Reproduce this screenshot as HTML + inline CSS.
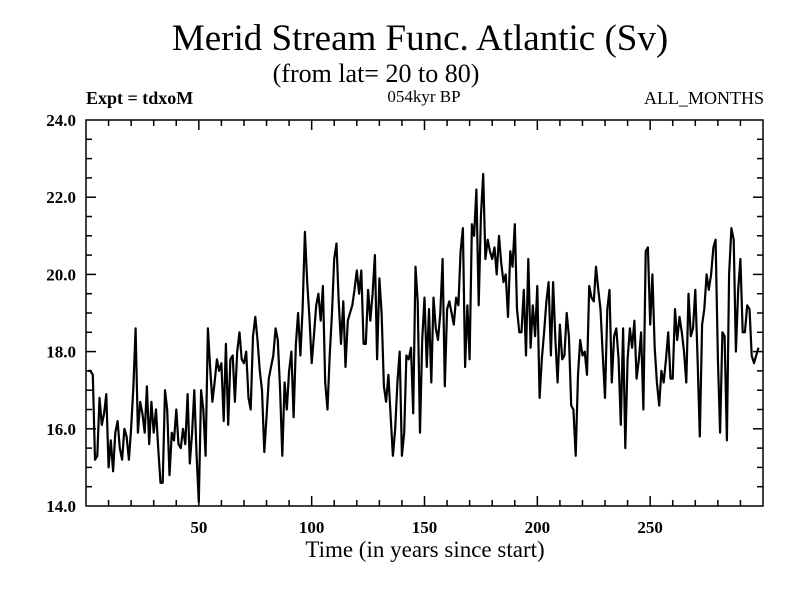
<!DOCTYPE html>
<html><head><meta charset="utf-8"><style>
body{margin:0;background:#fff;}
svg{display:block;font-family:"Liberation Serif",serif;}
</style></head><body>
<svg id="chart" width="800" height="600" viewBox="0 0 800 600">
<text x="420" y="50" font-size="37" text-anchor="middle">Merid Stream Func. Atlantic (Sv)</text>
<text x="376" y="82" font-size="26" text-anchor="middle">(from lat= 20 to 80)</text>
<text x="86" y="104" font-size="18" font-weight="bold">Expt = tdxoM</text>
<text x="424" y="102" font-size="17" text-anchor="middle">054kyr BP</text>
<text x="764" y="104" font-size="18" text-anchor="end">ALL_MONTHS</text>
<text x="425" y="557" font-size="23" text-anchor="middle">Time (in years since start)</text>
<g id="axes"></g>
<path id="series" fill="none" stroke="#000" stroke-width="2.2" stroke-linejoin="round"></path>
<rect x="86" y="120" width="677" height="386" fill="none" stroke="#000" stroke-width="1.5"></rect>
</svg>
<script>
const xTicks = [50, 100, 150, 200, 250];
const yTicks = [14, 16, 18, 20, 22, 24];
const yTickLabels = ["14.0", "16.0", "18.0", "20.0", "22.0", "24.0"];
const values = [
17.5,17.5,17.4,15.2,15.3,16.8,16.1,16.4,16.9,15.0,15.7,14.9,15.9,16.2,15.5,15.2,16.0,15.8,15.2,16.0,17.1,18.6,15.9,16.7,16.4,15.9,17.1,15.6,16.7,15.9,16.5,15.5,14.6,14.6,17.0,16.5,14.8,15.9,15.7,16.5,15.6,15.5,16.0,15.6,16.9,15.1,15.9,17.0,15.3,14.1,17.0,16.5,15.3,18.6,17.6,16.7,17.2,17.8,
17.5,17.7,16.2,18.2,16.1,17.8,17.9,16.7,18.0,18.5,17.8,17.7,18.0,16.8,16.5,18.4,18.9,18.3,17.5,17.0,15.4,16.3,17.3,17.6,17.9,18.6,18.3,17.0,15.3,17.2,16.5,17.5,18.0,16.3,18.2,19.0,17.9,19.1,21.1,19.8,18.9,17.7,18.4,19.2,19.5,18.8,19.7,17.2,16.5,17.9,19.0,20.4,20.8,19.3,18.2,19.3,17.6,18.8,19.0,19.2,19.6,20.1,
19.5,20.1,18.2,18.2,19.6,18.8,19.5,20.5,17.8,19.9,19.0,17.1,16.7,17.4,16.3,15.3,16.0,17.2,18.0,15.3,15.9,17.9,17.8,18.1,16.4,20.2,19.3,15.9,18.3,19.4,17.6,19.1,17.2,19.4,18.6,18.3,19.0,20.4,17.1,19.1,19.3,19.0,18.7,19.4,19.2,20.6,21.2,17.6,19.2,17.8,21.3,21.0,22.2,19.2,21.5,22.6,20.4,20.9,20.6,20.4,20.7,20.0,
21.0,20.3,19.8,20.0,18.9,20.6,20.2,21.3,19.1,18.5,18.5,19.6,17.9,20.4,18.1,19.2,18.4,19.7,16.8,17.8,18.5,19.3,19.8,17.9,19.8,18.3,17.2,18.7,17.8,17.9,19.0,18.4,16.6,16.5,15.3,17.4,18.3,17.9,18.0,17.4,19.7,19.4,19.3,20.2,19.6,19.1,17.9,16.8,19.1,19.6,17.2,18.4,18.6,17.8,16.1,18.6,
15.5,17.8,18.6,18.1,18.8,17.3,17.8,18.5,16.5,20.6,20.7,18.7,20.0,18.1,17.2,16.6,17.5,17.2,17.8,18.5,17.3,17.3,19.1,18.3,18.9,18.5,18.0,17.2,19.5,18.4,18.6,19.6,17.8,15.8,18.7,19.1,20.0,19.6,20.0,20.7,20.9,17.8,15.9,18.5,18.4,15.7,20.0,21.2,20.9,18.0,19.6,20.4,18.5,18.5,19.2,19.1,17.9,17.7,17.9,18.1
];
const years = values.map((v, i) => i + 1);

const X0 = 86, X1 = 763, Y0 = 506, Y1 = 120;
const xMin = 0, xMax = 300, yMin = 14, yMax = 24;
function xs(v){ return X0 + (v - xMin) / (xMax - xMin) * (X1 - X0); }
function ys(v){ return Y0 - (v - yMin) / (yMax - yMin) * (Y0 - Y1); }

const NS = "http://www.w3.org/2000/svg";
const axes = document.getElementById("axes");
function line(x1,y1,x2,y2,name){
  const l = document.createElementNS(NS, "line");
  l.setAttribute("x1", x1); l.setAttribute("y1", y1);
  l.setAttribute("x2", x2); l.setAttribute("y2", y2);
  l.setAttribute("stroke", "#000"); l.setAttribute("stroke-width", "1.5");
  
  
  axes.appendChild(l);
}
function text(x,y,s,anchor,size,name){
  const t = document.createElementNS(NS, "text");
  t.setAttribute("x", x); t.setAttribute("y", y);
  t.setAttribute("text-anchor", anchor); t.setAttribute("font-size", size);
  t.setAttribute("font-weight", "bold");
  t.textContent = s;
  
  
  axes.appendChild(t);
}
for (let v = 10; v < xMax; v += 10) {
  const major = v % 50 === 0;
  const L = major ? 10 : 6;
  line(xs(v), Y0, xs(v), Y0 - L, "x-tick");
  line(xs(v), Y1, xs(v), Y1 + L, "x-tick-top");
}
xTicks.forEach(v => text(xs(v), Y0 + 27, String(v), "middle", 17, "x-tick-label"));
for (let v = yMin + 0.5; v < yMax; v += 0.5) {
  const major = Math.abs(v % 2) < 1e-6;
  const L = major ? 10 : 6;
  line(X0, ys(v), X0 + L, ys(v), "y-tick");
  line(X1, ys(v), X1 - L, ys(v), "y-tick-right");
}
yTicks.forEach((v, i) => text(X0 - 10, ys(v) + 6, yTickLabels[i], "end", 17, "y-tick-label"));

let d = "";
values.forEach((v, i) => { d += (i ? "L" : "M") + xs(years[i]).toFixed(1) + " " + ys(v).toFixed(1); });
document.getElementById("series").setAttribute("d", d);
</script>
</body></html>
